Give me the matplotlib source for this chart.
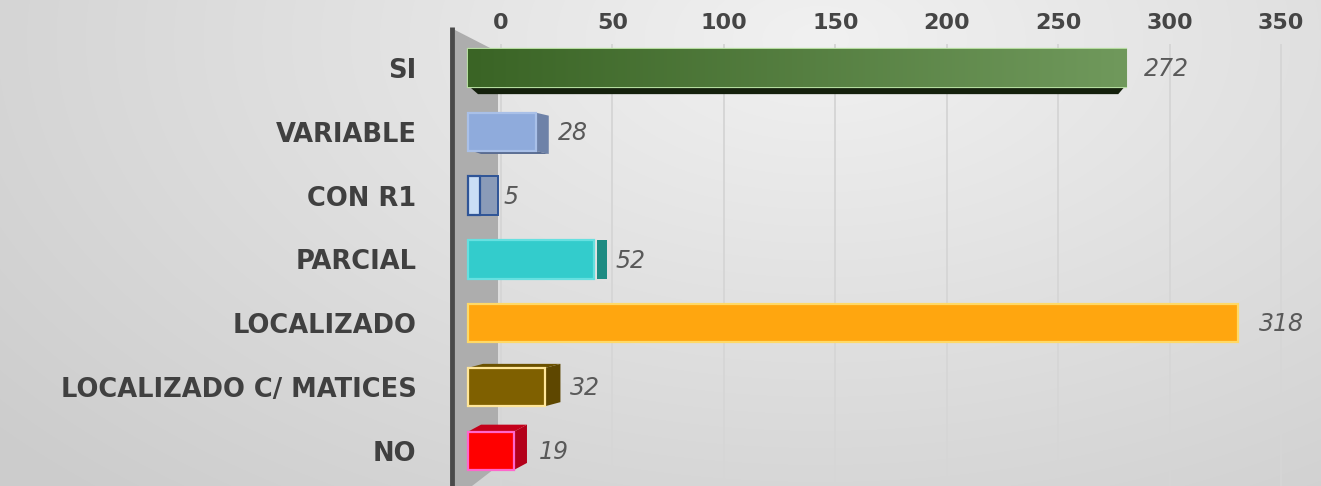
import numpy as np
import matplotlib
matplotlib.use("Agg")
import matplotlib.pyplot as plt
from matplotlib.patches import Polygon

# ---------------- data ----------------
categories = ['SI', 'VARIABLE', 'CON R1', 'PARCIAL', 'LOCALIZADO',
              'LOCALIZADO C/ MATICES', 'NO']
values = [272, 28, 5, 52, 318, 32, 19]
tick_values = [0, 50, 100, 150, 200, 250, 300, 350]

# ---------------- styles ----------------
front_colors = ['#3f6a2a', '#8fabdc', '#c9def5', '#33cccc', '#ffa60f', '#7f6000', '#ff0000']
side_colors = [None, '#6e82a8', '#8a9bb8', '#1d8b82', None, '#5e4700', '#b3001a']
cap_colors = [None, '#56698f', None, None, None, '#6b5100', '#c4001a']
edge_colors = ['#b5dca0', '#a9c0e8', '#2f5597', '#66e0e0', '#ffd966', '#ffe699', '#ff66cc']
# 3-D depth (dx px, dy px, gap px) for each bar
depths = [(0, 0, 0), (13, 3, 0), (18, 0, 0), (10, 0, 3), (0, 0, 0), (15, -4, 0), (13, -7, 0)]
label_offsets_px = [18, 22, 23, 22, 21, 25, 25]

W, H = 1321, 486
fig = plt.figure(figsize=(W / 100, H / 100), dpi=100)

# background gradient
bg = fig.add_axes([0, 0, 1, 1], zorder=-10)
yy, xx = np.mgrid[0:H, 0:W]
d = np.sqrt(((xx - 820) / 900.0) ** 2 + ((yy - 40) / 520.0) ** 2)
shade = 0.945 - 0.12 * np.clip(d, 0, 1.2)
bg.imshow(np.dstack([shade, shade, shade]), extent=(0, W, H, 0), aspect='auto')
bg.set_xlim(0, W)
bg.set_ylim(H, 0)
bg.axis('off')

# main axes geometry (pixel based)
X0PX = 468.0      # pixel of value 0 (front face)
PXV = 2.42        # pixels per unit for bars
Y0PX = 68.0       # centre of first category
PXC = 63.8        # pixels per category
AX_LEFT = 440.0

ax = fig.add_axes([AX_LEFT / W, 0, (W - AX_LEFT) / W, 1])
ax.set_facecolor('none')

def px_x(p):
    return (p - X0PX) / PXV

def px_y(p):
    return (p - Y0PX) / PXC

# mapping between bar values and the (perspective shifted) grid scale
G0PX = 501.0
GPX = 2.229

def to_grid(v):
    return (X0PX + PXV * np.asarray(v, dtype=float) - G0PX) / GPX

def from_grid(t):
    return (G0PX + GPX * np.asarray(t, dtype=float) - X0PX) / PXV

# gridlines
for t in tick_values:
    gx = from_grid(t)
    ax.plot([gx, gx], [px_y(45), px_y(486)], color='#d6d6d6', lw=1.4, zorder=1)

# left wall / floor
wall = Polygon([(px_x(455), px_y(30)), (px_x(494), px_y(50)), (px_x(498), px_y(52)),
                (px_x(498), px_y(466)), (px_x(472), px_y(486)), (px_x(455), px_y(486))],
               closed=True, facecolor='#adadad', edgecolor='none', zorder=2)
ax.add_patch(wall)
ax.plot([px_x(452), px_x(452)], [px_y(27), px_y(486)], color='#4a4a4a', lw=3.5,
        solid_capstyle='butt', zorder=3)

y_pos = np.arange(len(categories))
bar_h = 0.6
bars = ax.barh(y_pos, values, height=bar_h, color=front_colors,
               edgecolor=edge_colors, linewidth=1.6, zorder=5)

# gradient on first bar
b0 = bars[0]
grad = np.linspace(0, 1, 256)[None, :]
cmap = matplotlib.colors.LinearSegmentedColormap.from_list('g', ['#3a6425', '#70995c'])
im = ax.imshow(grad, cmap=cmap, extent=(0, values[0], y_pos[0] + bar_h / 2, y_pos[0] - bar_h / 2),
               aspect='auto', zorder=5.5)
im.set_clip_path(b0)
# dark shadow under first bar
yb0 = y_pos[0] + bar_h / 2
sh = Polygon([(px_x(470), yb0), (values[0] - 2 / PXV, yb0),
              (values[0] - 8 / PXV, yb0 + 7 / PXC), (px_x(478), yb0 + 7 / PXC)],
             closed=True, facecolor='#14200c', edgecolor='none', zorder=4.8)
ax.add_patch(sh)
ax.add_patch(Polygon(b0.get_verts(), closed=True, facecolor='none',
                     edgecolor=edge_colors[0], lw=1.6, zorder=6))

# 3-D side / cap faces
for i, (v, (dx, dy, gap)) in enumerate(zip(values, depths)):
    if dx == 0:
        continue
    yt = y_pos[i] - bar_h / 2
    yb = y_pos[i] + bar_h / 2
    dxv, dyv, gv = dx / PXV, dy / PXC, gap / PXV
    x1 = v + gv
    side = Polygon([(x1, yt), (x1 + dxv, yt + dyv), (x1 + dxv, yb + dyv), (x1, yb)],
                   closed=True, facecolor=side_colors[i],
                   edgecolor=edge_colors[i] if i == 2 else 'none', lw=1.4, zorder=4.9)
    ax.add_patch(side)
    if cap_colors[i] is not None:
        if dy < 0:
            cap = [(0, yt), (dxv, yt + dyv), (v + dxv, yt + dyv), (v, yt)]
        else:
            cap = [(0 + 4 / PXV, yb), (dxv, yb + dyv), (v + dxv, yb + dyv), (v, yb)]
        ax.add_patch(Polygon(cap, closed=True, facecolor=cap_colors[i],
                             edgecolor='none', zorder=4.9))

# value labels
for i, v in enumerate(values):
    ax.text(v + label_offsets_px[i] / PXV, y_pos[i] + 0.02, str(v), ha='left', va='center',
            fontsize=17, style='italic', color='#595959', family='DejaVu Sans', zorder=7)

ax.set_xlim(px_x(AX_LEFT), px_x(W))
ax.set_ylim(px_y(H), px_y(0))

ax.set_yticks(y_pos)
ax.set_yticklabels(categories, fontsize=18.5, fontweight='bold', color='#404040',
                   family='DejaVu Sans')
ax.tick_params(axis='y', length=0, pad=17)
ax.set_xticks([])
for s in ax.spines.values():
    s.set_visible(False)

sec = ax.secondary_xaxis(1 - 37 / H, functions=(to_grid, from_grid))
sec.set_xticks(tick_values)
sec.set_xticklabels([str(t) for t in tick_values], fontsize=16, fontweight='bold',
                    color='#454545', family='DejaVu Sans')
sec.tick_params(axis='x', length=0, pad=3)
sec.spines['top'].set_visible(False)
sec.spines['bottom'].set_visible(False)

fig.savefig('out.png', dpi=100)
